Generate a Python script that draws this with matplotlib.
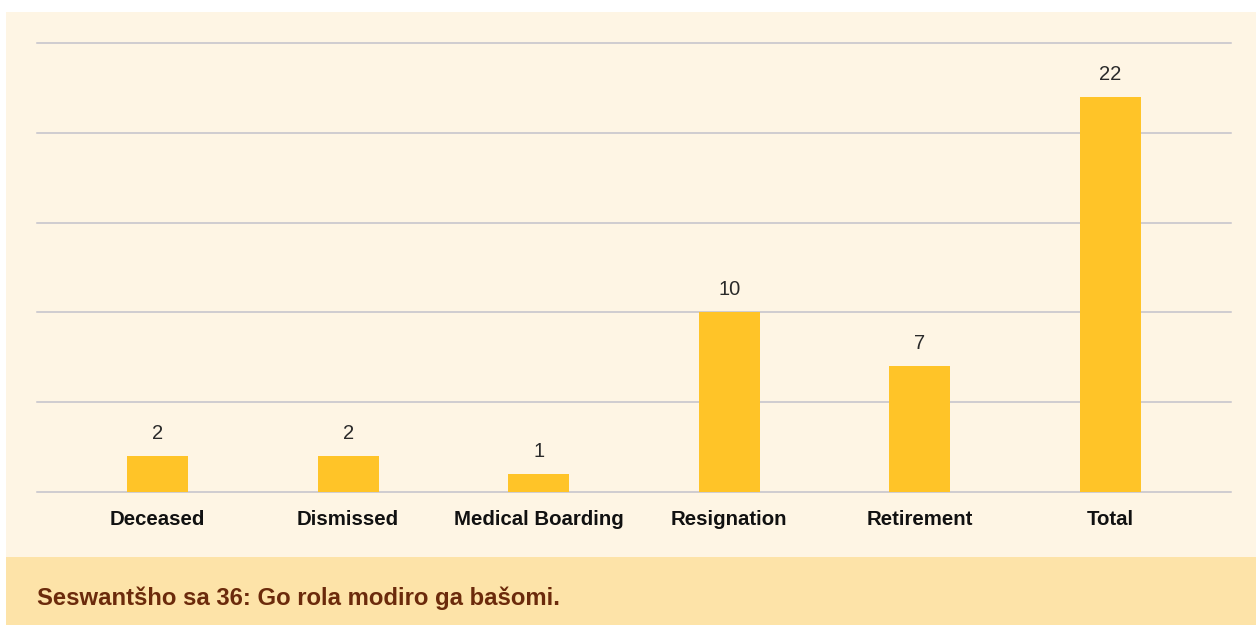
import matplotlib
matplotlib.use("Agg")
from matplotlib import pyplot as plt
from matplotlib.patches import Rectangle

##### Data #####
categories = ["Deceased", "Dismissed", "Medical Boarding", "Resignation", "Retirement", "Total"]
counts = [2, 2, 1, 10, 7, 22]
caption = "Seswantšho sa 36: Go rola modiro ga bašomi."

### Style ##
cream = "#FEF5E4"
band = "#FDE3A8"
bar_col = "#FFC428"
grid_col = "#C3C2CB"
cap_col = "#6B2A0B"

plt.rcParams["font.family"] = ["Liberation Sans", "DejaVu Sans"]

W, H = 1256, 625
fig = plt.figure(figsize=(W/100, H/100), dpi=100, facecolor="white")

# cream panel + caption band (figure coords)
fig.patches.append(Rectangle((6/W, (H-557)/H), 1-6/W, (557-12)/H, transform=fig.transFigure,
                             facecolor=cream, edgecolor="none", zorder=-5))
fig.patches.append(Rectangle((6/W, 0), 1-6/W, (H-557)/H, transform=fig.transFigure,
                             facecolor=band, edgecolor="none", zorder=-5))

ax = fig.add_axes([37/W, (H-492)/H, (1231-37)/W, (492-43)/H])
ax.set_facecolor("none")
ax.set_zorder(2)

x = range(len(categories))
bars = ax.bar(x, counts, width=0.32, color=bar_col, zorder=3)

ax.set_ylim(0, 25)
ax.set_xlim(-0.633, len(categories) - 1 + 0.633)
ax.set_yticks(range(0, 26, 5))
ax.set_yticklabels([])
ax.tick_params(axis="y", length=0)
ax.tick_params(axis="x", length=0, pad=13)
for yv in range(0, 26, 5):
    ax.axhline(yv, color=grid_col, linewidth=1.1, zorder=1, clip_on=False)
for s in ax.spines.values():
    s.set_visible(False)

ax.set_xticks(list(x))
ax.set_xticklabels(categories, fontsize=14.7, fontweight="bold", color="#111111")

for xi, v in zip(x, counts):
    ax.annotate(str(v), (xi, v), xytext=(0, 13), textcoords="offset pixels",
                ha="center", va="bottom", fontsize=14.5, color="#2a2a2a")

fig.text(37/W, (H-598)/H, caption, fontsize=17.2, fontweight="bold", color=cap_col,
         ha="left", va="center")

fig.savefig("out.png", dpi=100, facecolor="white")
